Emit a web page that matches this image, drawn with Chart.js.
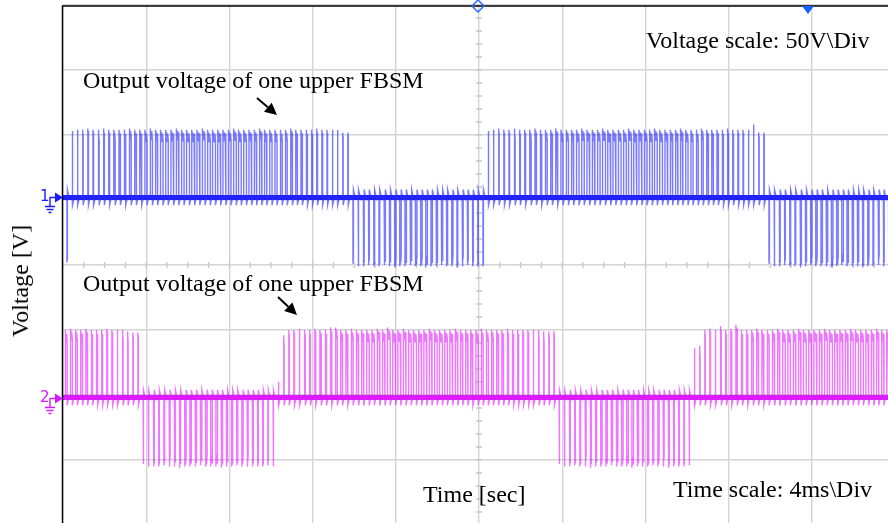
<!DOCTYPE html>
<html>
<head>
<meta charset="utf-8">
<title>FBSM output voltages</title>
<script src="https://cdn.jsdelivr.net/npm/chart.js@4.4.1/dist/chart.umd.min.js"></script>
<style>
  html, body { margin: 0; padding: 0; background: #fff; overflow: hidden; }
  #wrap { position: relative; width: 900px; height: 530px; }
  .lbl {
    position: absolute;
    font-family: "Times New Roman", "Liberation Serif", serif;
    font-size: 24px;
    line-height: 24px;
    color: #000;
    white-space: nowrap;
  }
  #yTitle { left: 20px; top: 281px; transform: translate(-50%, -50%) rotate(-90deg); }
</style>
</head>
<body>
<div id="wrap">
  <canvas id="scope" width="900" height="530"></canvas>
  <div class="lbl" style="left:83px; top:68px;">Output voltage of one upper FBSM</div>
  <div class="lbl" style="left:83px; top:271px;">Output voltage of one upper FBSM</div>
  <div class="lbl" style="left:646px; top:28px;">Voltage scale: 50V\Div</div>
  <div class="lbl" style="left:423px; top:482px;">Time [sec]</div>
  <div class="lbl" style="left:673px; top:477px;">Time scale: 4ms\Div</div>
  <div class="lbl" id="yTitle">Voltage [V]</div>
</div>
<script>
// Screen: 10 divisions of 4 ms, 8 divisions of 50 V
const timeTicksMs = [0, 4, 8, 12, 16, 20, 24, 28, 32, 36, 40];
const voltTicks = [-200, -150, -100, -50, 0, 50, 100, 150, 200];

// Switching slots are 0.25 ms apart (4 kHz carrier)
const SLOT_MS = 0.25;
const ch1StartMs = 0.19;
const ch2StartMs = 0.10;
const ch1OffsetV = 52;
const ch2OffsetV = -102;

// Pulse widths over one 20 ms cycle: 54 positive slots, then 26 negative slots
const cycleWidthMs = [
  0.03, 0.03, 0.03, 0.04, 0.04, 0.05, 0.05, 0.06, 0.07, 0.07,
  0.08, 0.09, 0.09, 0.10, 0.10, 0.11, 0.11, 0.12, 0.12, 0.13,
  0.13, 0.13, 0.14, 0.14, 0.14, 0.14, 0.14, 0.14, 0.14, 0.14,
  0.14, 0.14, 0.13, 0.13, 0.13, 0.12, 0.12, 0.11, 0.11, 0.10,
  0.10, 0.09, 0.09, 0.08, 0.07, 0.07, 0.06, 0.05, 0.05, 0.04,
  0.04, 0.03, 0.03, 0.03,
  0.03, 0.03, 0.04, 0.04, 0.05, 0.05, 0.06, 0.06, 0.07, 0.07,
  0.07, 0.08, 0.08, 0.08, 0.08, 0.07, 0.07, 0.07, 0.06, 0.06,
  0.05, 0.05, 0.04, 0.04, 0.03, 0.03
];

// Channel 1: peak voltage of each pulse, one per slot
const ch1PulseV = [
  -48,
  49, 50, 50, 51, 50, 50, 51, 50, 50, 50,
  50, 51, 50, 50, 50, 51, 50, 50, 50, 50,
  51, 50, 50, 50, 50, 51, 50, 50, 50, 50,
  50, 51, 50, 50, 50, 50, 51, 50, 50, 50,
  50, 50, 51, 50, 50, 50, 50, 51, 50, 50,
  50, 50, 48, 48,
  -49, -51, -51, -50, -51, -51, -50, -51, -52, -51,
  -51, -50, -51, -51, -52, -51, -51, -50, -51, -51,
  -52, -51, -50, -51, -51, -51,
  49, 50, 51, 50, 50, 51, 50, 50, 50, 51,
  50, 50, 50, 51, 50, 50, 50, 50, 51, 50,
  50, 50, 51, 50, 50, 50, 50, 51, 50, 50,
  50, 50, 51, 50, 50, 50, 50, 51, 50, 50,
  50, 51, 50, 50, 50, 50, 51, 50, 50, 50,
  50, 54, 48, 48,
  -49, -51, -51, -50, -51, -51, -52, -51, -50, -51,
  -51, -51, -52, -51, -50, -51, -51, -51, -52, -51,
  -51, -50, -51, -51, -51
];

// Channel 2: peak voltage of each pulse, one per slot
const ch2PulseV = [
  50, 51, 50, 50, 51, 50, 50, 50, 51, 50,
  50, 50, 49, 48, 48,
  -49, -51, -51, -51, -50, -51, -51, -52, -51, -51,
  -51, -50, -51, -51, -51, -52, -51, -51, -50, -51,
  -51, -51, -51, -51, -50, -51,
  10, 46, 50, 50, 51, 50, 50, 51, 50, 50,
  52, 52, 50, 50, 51, 50, 50, 50, 50, 51,
  50, 52, 50, 50, 51, 50, 50, 50, 50, 51,
  50, 50, 50, 50, 51, 50, 50, 50, 50, 51,
  50, 50, 50, 50, 51, 50, 50, 50, 50, 50,
  50, 49, 49, 49,
  -49, -51, -51, -50, -51, -51, -52, -51, -51, -51,
  -50, -51, -51, -51, -52, -51, -51, -51, -50, -51,
  -51, -52, -51, -51, -51, -50,
  36, 38, 50, 51, 50, 53, 50, 51, 54, 50,
  50, 50, 51, 50, 50, 50, 51, 50, 50, 50,
  51, 50, 50, 50, 50, 51, 50, 50, 50, 50,
  51, 50, 50, 50, 50, 51, 50, 50, 50
];

// Turn the pulse list into a drawn waveform with ringing on the flat top
// and an undershoot after the falling edge
function buildTrace(pulseV, startMs, offsetV, widthPhase) {
  const pts = [];
  pulseV.forEach((v, k) => {
    const t = startMs + k * SLOT_MS;
    const w = cycleWidthMs[(k + widthPhase) % cycleWidthMs.length];
    const s = Math.sign(v);
    pts.push({ x: t, y: offsetV });
    pts.push({ x: t, y: offsetV + v + s * 2 });
    pts.push({ x: t + w * 0.2, y: offsetV + v - s * 7 });
    pts.push({ x: t + w * 0.4, y: offsetV + v });
    pts.push({ x: t + w * 0.6, y: offsetV + v - s * 7 });
    pts.push({ x: t + w * 0.8, y: offsetV + v - s * 1 });
    pts.push({ x: t + w, y: offsetV + v - s * 6 });
    pts.push({ x: t + w, y: offsetV - s * 6 });
    pts.push({ x: t + w + 0.06, y: offsetV - s * 1 });
    pts.push({ x: t + w + 0.08, y: offsetV });
  });
  return pts;
}

function baseline(offsetV) {
  return [{ x: 0, y: offsetV }, { x: 40, y: offsetV }];
}

const BLUE_LINE = 'rgba(40, 40, 255, 0.62)';
const BLUE_BASE = 'rgba(20, 20, 255, 0.95)';
const PINK_LINE = 'rgba(225, 20, 255, 0.58)';
const PINK_BASE = 'rgba(215, 20, 255, 0.95)';

// Center cross ticks, frame, markers and channel tags
const scopeDecor = {
  id: 'scopeDecor',
  beforeDatasetsDraw(chart) {
    const { ctx, scales: { x, y } } = chart;
    ctx.save();
    ctx.strokeStyle = '#c8c8c8';
    ctx.lineWidth = 1.3;
    const cx = x.getPixelForValue(20);
    const cy = y.getPixelForValue(0);
    ctx.beginPath();
    for (let v = -200; v <= 200; v += 10) {
      const py = y.getPixelForValue(v);
      ctx.moveTo(cx - 3, py); ctx.lineTo(cx + 3, py);
    }
    for (let t = 0; t <= 40; t += 1) {
      const px = x.getPixelForValue(t);
      ctx.moveTo(px, cy - 3); ctx.lineTo(px, cy + 3);
    }
    ctx.stroke();
    ctx.restore();
  },
  afterDraw(chart) {
    const { ctx, chartArea, scales: { y } } = chart;
    ctx.save();
    // frame
    ctx.strokeStyle = '#000';
    ctx.lineWidth = 1.5;
    ctx.beginPath();
    ctx.moveTo(chartArea.left - 0.5, 600);
    ctx.lineTo(chartArea.left - 0.5, 6);
    ctx.lineTo(900, 6);
    ctx.stroke();

    // trigger markers on the top edge
    ctx.strokeStyle = '#2a6cff';
    ctx.lineWidth = 1.5;
    ctx.beginPath();
    ctx.moveTo(472, 6); ctx.lineTo(478, 12); ctx.lineTo(484, 6);
    ctx.moveTo(472, 6); ctx.lineTo(478, 0); ctx.lineTo(484, 6);
    ctx.stroke();
    ctx.fillStyle = '#1560ff';
    ctx.beginPath();
    ctx.moveTo(802, 6); ctx.lineTo(814, 6); ctx.lineTo(808, 14);
    ctx.closePath();
    ctx.fill();

    // channel tags with ground symbol
    const tags = [
      { label: '1', color: '#1a1aff', v: ch1OffsetV },
      { label: '2', color: '#d21cff', v: ch2OffsetV }
    ];
    tags.forEach(tag => {
      const py = Math.round(y.getPixelForValue(tag.v)) + 0.5;
      ctx.fillStyle = tag.color;
      ctx.strokeStyle = tag.color;
      ctx.font = '15px "DejaVu Sans", sans-serif';
      ctx.textBaseline = 'alphabetic';
      ctx.fillText(tag.label, 40, py + 3);
      ctx.lineWidth = 1.4;
      ctx.beginPath();
      ctx.moveTo(50, py + 9); ctx.lineTo(50, py); ctx.lineTo(56, py);
      ctx.moveTo(45, py + 9); ctx.lineTo(55, py + 9);
      ctx.moveTo(46.5, py + 12); ctx.lineTo(53.5, py + 12);
      ctx.moveTo(48.5, py + 15); ctx.lineTo(51.5, py + 15);
      ctx.stroke();
      ctx.beginPath();
      ctx.moveTo(55, py - 5); ctx.lineTo(63, py); ctx.lineTo(55, py + 5);
      ctx.closePath();
      ctx.fill();
    });

    // arrows pointing at the traces
    const arrows = [[257, 98, 277, 115], [278, 297, 297, 315]];
    ctx.fillStyle = '#000';
    ctx.strokeStyle = '#000';
    arrows.forEach(([x0, y0, x1, y1]) => {
      const ang = Math.atan2(y1 - y0, x1 - x0);
      const hl = 12, hw = 6;
      const bx = x1 - hl * Math.cos(ang), by = y1 - hl * Math.sin(ang);
      ctx.lineWidth = 2;
      ctx.beginPath();
      ctx.moveTo(x0, y0); ctx.lineTo(bx, by);
      ctx.stroke();
      ctx.beginPath();
      ctx.moveTo(x1, y1);
      ctx.lineTo(bx + hw * Math.sin(ang), by - hw * Math.cos(ang));
      ctx.lineTo(bx - hw * Math.sin(ang), by + hw * Math.cos(ang));
      ctx.closePath();
      ctx.fill();
    });
    ctx.restore();
  }
};

new Chart(document.getElementById('scope'), {
  type: 'line',
  data: {
    datasets: [
      { data: buildTrace(ch1PulseV, ch1StartMs, ch1OffsetV, 79), borderColor: BLUE_LINE, borderWidth: 1.4 },
      { data: baseline(ch1OffsetV), borderColor: BLUE_BASE, borderWidth: 5 },
      { data: buildTrace(ch2PulseV, ch2StartMs, ch2OffsetV, 39), borderColor: PINK_LINE, borderWidth: 1.4 },
      { data: baseline(ch2OffsetV), borderColor: PINK_BASE, borderWidth: 5 }
    ]
  },
  options: {
    responsive: false,
    animation: false,
    events: [],
    layout: { padding: { left: 63, top: 5, right: 5, bottom: 5 } },
    elements: {
      point: { radius: 0 },
      line: { tension: 0, fill: false, borderJoinStyle: 'miter' }
    },
    plugins: {
      legend: { display: false },
      tooltip: { enabled: false }
    },
    scales: {
      x: {
        type: 'linear',
        min: timeTicksMs[0],
        max: timeTicksMs[timeTicksMs.length - 1],
        afterBuildTicks: axis => { axis.ticks = timeTicksMs.map(v => ({ value: v })); },
        ticks: { display: false },
        grid: { color: '#d4d4d4', lineWidth: 1.4, drawTicks: false },
        border: { display: false }
      },
      y: {
        type: 'linear',
        min: voltTicks[0],
        max: voltTicks[voltTicks.length - 1],
        afterBuildTicks: axis => { axis.ticks = voltTicks.map(v => ({ value: v })); },
        ticks: { display: false },
        grid: { color: '#d4d4d4', lineWidth: 1.4, drawTicks: false },
        border: { display: false }
      }
    }
  },
  plugins: [scopeDecor]
});
</script>
</body>
</html>
